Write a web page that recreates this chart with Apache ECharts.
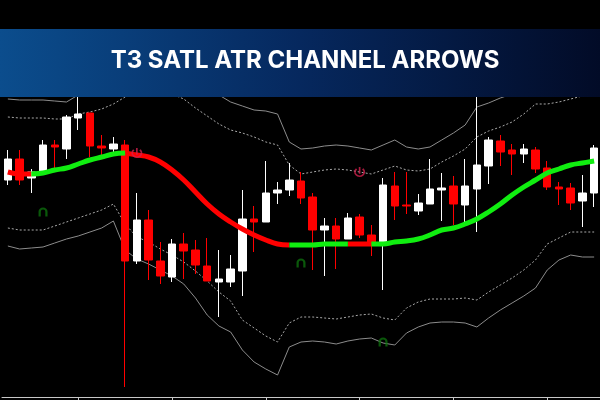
<!DOCTYPE html>
<html><head><meta charset="utf-8">
<script src="https://cdn.jsdelivr.net/npm/echarts@6/dist/echarts.min.js"></script>
<style>html,body{margin:0;padding:0;background:#000;}#c{width:600px;height:400px;}</style>
</head><body><div id="c"></div>
<script>
// ---- data (price units, arbitrary scale) ----
const categories = ['1','2','3','4','5','6','7','8','9','10','11','12','13','14','15','16','17','18','19','20','21','22','23','24','25','26','27','28','29','30','31','32','33','34','35','36','37','38','39','40','41','42','43','44','45','46','47','48','49','50','51'];
const opens  = [217,238,219,225,252,248,279,284,251,248,252,136,177,136,120,153,147,131,115,115,126,178,175,204,207,216,200,167,171,158,180,162,154,211,192,186,193,207,211,192,208,231,256,247,243,247,229,210,209,196,204];
const closes = [238,217,225,252,250,280,283,251,249,253,136,177,137,121,153,146,132,116,118,128,178,175,204,207,217,199,167,171,158,179,162,153,212,191,191,194,208,209,193,211,232,257,245,243,248,228,210,208,194,204,249];
const lows   = [212,212,204,225,226,238,267,240,240,243,10,133,117,113,115,118,123,116,80,110,101,145,175,193,201,193,127,121,128,158,159,141,107,177,183,182,193,176,172,171,165,213,231,222,234,224,207,192,187,170,190];
const highs  = [247,247,228,257,257,282,305,284,262,260,257,204,187,155,158,164,157,159,147,142,207,191,236,215,234,225,204,179,179,184,183,172,219,225,225,203,238,224,221,238,310,260,262,253,253,250,236,215,214,222,252];
const t3Line = [225,223,223,224,227,229,233,237,240,243,244,242,240,235,227,217,205,193,183,175,168,162,157,153,152,152,152,153,153,153,153,153,153,155,156,158,162,167,169,173,178,185,193,202,210,217,224,228,232,234,236];
const t3DownSegments = [[0,2],[10,24],[29,31]];
const upperOuter = [298,297,297,297,296,295,302,305,307,307,307,307,307,307,307,307,305,302,302,295,291,287,286,283,255,248,249,251,252,251,249,247,252,257,250,248,250,257,264,272,290,294,299,303,305,307,307,307,307,307,307];
const upperInner = [280,279,279,279,278,278,283,285,288,293,300,305,307,305,303,298,289,281,273,267,264,260,255,252,232,223,225,227,228,227,225,223,227,231,227,226,228,235,241,248,260,266,270,275,283,293,293,295,298,301,303];
const lowerInner = [169,167,167,167,171,175,179,183,187,193,173,160,155,148,142,135,126,116,105,96,77,69,61,55,74,80,80,79,78,80,82,83,79,77,89,95,98,98,98,99,97,105,112,119,127,137,153,159,165,165,165];
const lowerOuter = [151,148,149,150,154,158,161,165,169,176,147,138,133,127,121,113,99,82,71,65,47,35,28,22,50,55,56,55,53,56,58,59,54,52,64,70,74,75,75,74,70,79,87,94,101,109,127,137,142,140,140];
const buyArrows  = [[3,185],[25,134],[32,55]];
const sellArrows = [[11,244],[30,225]];
const titleText = 'T3 SATL ATR CHANNEL ARROWS';

// ---- build ----
const candles = categories.map((c,i)=>[opens[i],closes[i],lows[i],highs[i]]);
const isDown = i => t3DownSegments.some(s => i>=s[0] && i<=s[1]);
const isUp = i => !t3DownSegments.some(s => i>s[0] && i<s[1]);
const t3Red = t3Line.map((v,i)=> isDown(i)? v : null);
const t3Green = t3Line.map((v,i)=> isUp(i)? v : null);

const chart = echarts.init(document.getElementById('c'), null, {renderer:'canvas'});
const chLine = (data, dashed) => ({
  type:'line', data, symbol:'none', silent:true, z:1,
  lineStyle:{color: dashed ? '#a8a8a8' : '#8c8c8c', width:1, type: dashed ? [2,2] : 'solid'}
});
chart.setOption({
  backgroundColor:'#000000',
  animation:false,
  grid:{left:2, right:-4, top:97, bottom:3},
  xAxis:{type:'category', data:categories, boundaryGap:true,
    axisLine:{show:true, lineStyle:{color:'#c8c8c8', width:1}},
    axisTick:{show:true, alignWithLabel:true, length:3, interval:(idx)=> (idx-6)%8===0, lineStyle:{color:'#c8c8c8'}},
    axisLabel:{show:false}, splitLine:{show:false}},
  yAxis:{type:'value', min:0, max:300, show:false, splitLine:{show:false}},
  series:[
    chLine(upperOuter,false),
    chLine(upperInner,true),
    chLine(lowerInner,true),
    chLine(lowerOuter,false),
    {type:'candlestick', data:candles, barWidth:8, z:2,
      itemStyle:{color:'#ffffff', color0:'#ff0000', borderColor:'#ffffff', borderColor0:'#ff0000', borderWidth:1}},
    {type:'line', data:t3Red, smooth:0.4, symbol:'none', connectNulls:false, z:3,
      lineStyle:{color:'#ff0000', width:5}},
    {type:'line', data:t3Green, smooth:0.4, symbol:'none', connectNulls:false, z:3,
      lineStyle:{color:'#10ee10', width:5}},
    {type:'scatter', data:buyArrows, z:4, symbolSize:[9,9],
      symbol:'path://M0,9 L0,4 A4,4 0 0 1 8,4 L8,9 L6,9 L6,4 A2,2 0 0 0 2,4 L2,9 Z',
      itemStyle:{color:'#0c6e0c'}},
    {type:'scatter', data:sellArrows, z:4, symbolSize:[11,10],
      symbol:'path://M2,1 A4.5,4.5 0 1 0 8,1 L7,2.2 A3,3 0 1 1 3,2.2 Z M4.3,0 L5.7,0 L5.7,6 L4.3,6 Z',
      itemStyle:{color:'#d0204c'}}
  ],
  graphic:[
    {type:'rect', z:100, shape:{x:0,y:29,width:600,height:68},
      style:{fill:new echarts.graphic.LinearGradient(0,0,1,0,[{offset:0,color:'#0b4d8d'},{offset:0.5,color:'#06285e'},{offset:1,color:'#020b27'}])}},
    {type:'text', z:101, x:305, y:61,
      style:{text:titleText, fill:'#ffffff', font:'700 24px Inter', textAlign:'center', textVerticalAlign:'middle'}}
  ]
});
</script></body></html>
